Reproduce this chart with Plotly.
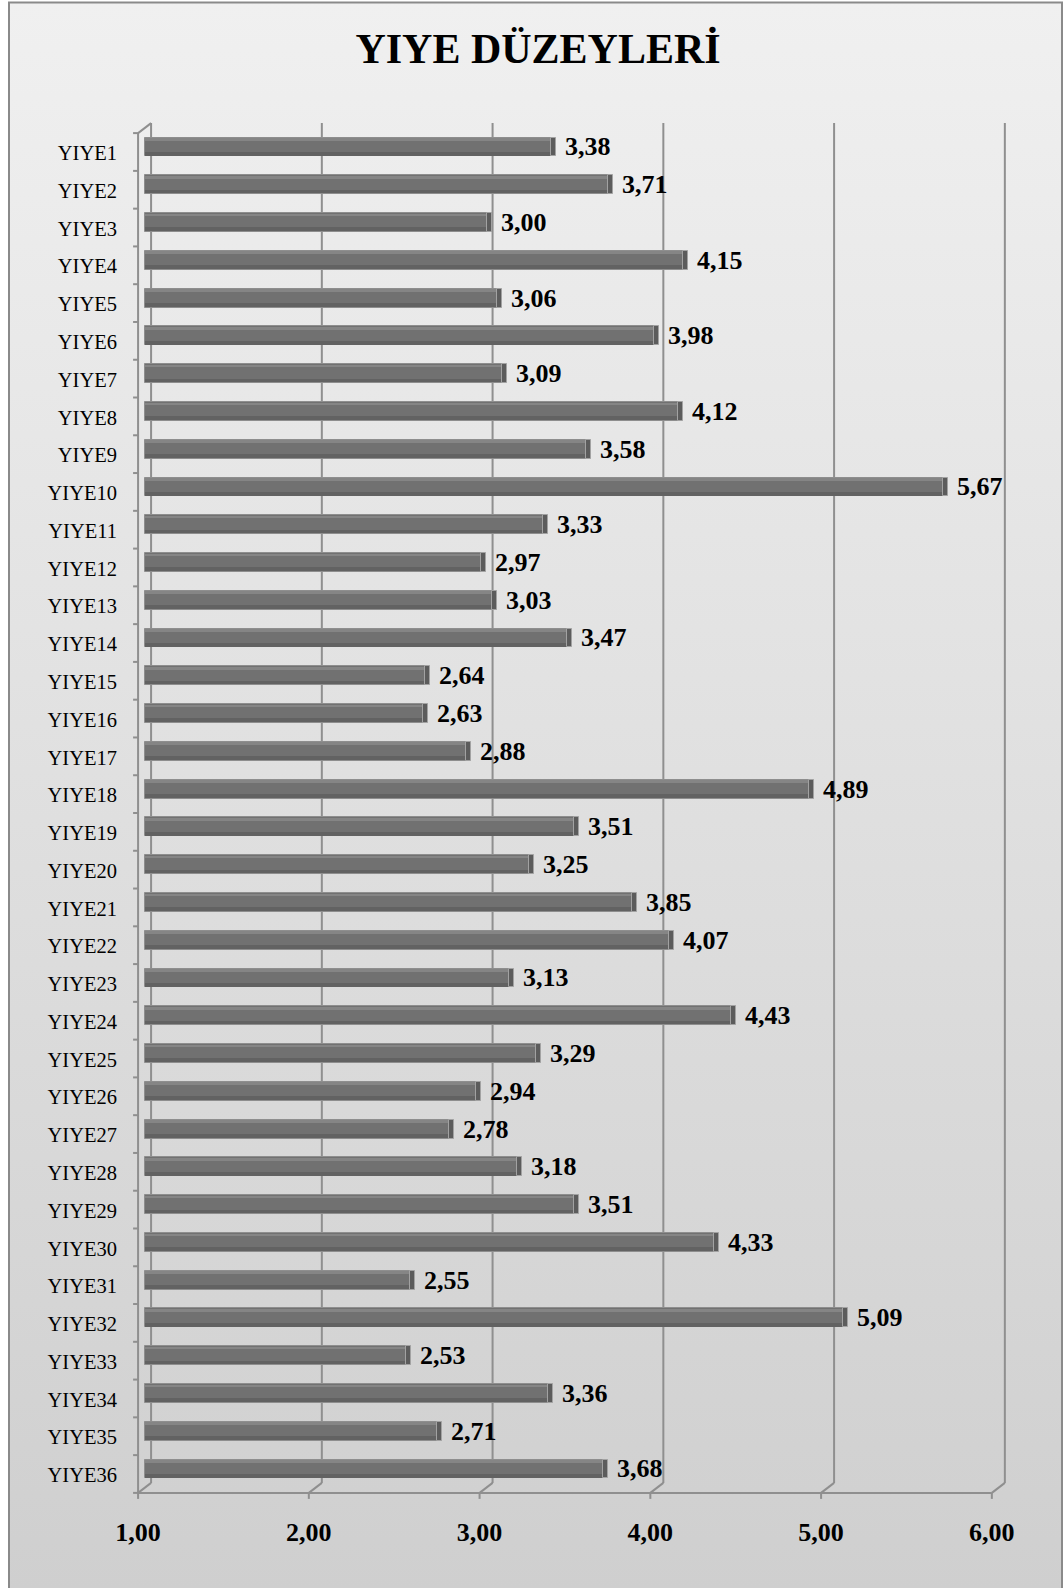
import base64
import plotly.graph_objects as go

# ---------------- data ----------------
categories = ["YIYE1", "YIYE2", "YIYE3", "YIYE4", "YIYE5", "YIYE6", "YIYE7", "YIYE8",
              "YIYE9", "YIYE10", "YIYE11", "YIYE12", "YIYE13", "YIYE14", "YIYE15", "YIYE16",
              "YIYE17", "YIYE18", "YIYE19", "YIYE20", "YIYE21", "YIYE22", "YIYE23", "YIYE24",
              "YIYE25", "YIYE26", "YIYE27", "YIYE28", "YIYE29", "YIYE30", "YIYE31", "YIYE32",
              "YIYE33", "YIYE34", "YIYE35", "YIYE36"]
values = [3.38, 3.71, 3.00, 4.15, 3.06, 3.98, 3.09, 4.12, 3.58, 5.67, 3.33, 2.97,
          3.03, 3.47, 2.64, 2.63, 2.88, 4.89, 3.51, 3.25, 3.85, 4.07, 3.13, 4.43,
          3.29, 2.94, 2.78, 3.18, 3.51, 4.33, 2.55, 5.09, 2.53, 3.36, 2.71, 3.68]
tick_values = [1, 2, 3, 4, 5, 6]
tick_labels = ["1,00", "2,00", "3,00", "4,00", "5,00", "6,00"]
title_text = "YIYE DÜZEYLERİ"
axis_base = 1

# ---------------- geometry / style ----------------
W, H = 1064, 1588
L, R, T, B = 128, 31, 113, 85
PW, PH = W - L - R, H - T - B
X_RANGE = [0.9, 6.2]
Y_RANGE = [35.9, -0.9]
PX_PER_X = PW / (X_RANGE[1] - X_RANGE[0])
PX_PER_Y = PH / (Y_RANGE[0] - Y_RANGE[1])


def dx(px):
    return px / PX_PER_X


def dy(px):  # positive = downwards (reversed category axis)
    return px / PX_PER_Y


def paper_x(px):
    return (px - L) / PW


def paper_y(py):
    return (H - B - py) / PH


FDX, FDY = dx(-7), dy(5)     # front plane offset
BDX, BDY = dx(6), dy(-5)     # back plane offset
N = len(categories)
TOP_EDGE, BOT_EDGE = -0.5, N - 0.5
GRID = "#8f8f8f"
SERIF = "Liberation Serif"

fmt = lambda v: f"{v:.2f}".replace(".", ",")

fig = go.Figure()

# bar body
fig.add_trace(go.Bar(
    y=categories, x=[v - axis_base for v in values], base=axis_base, orientation="h",
    width=0.5, marker=dict(color="#717171", line=dict(color="#8e8e8e", width=1)),
    hoverinfo="skip", showlegend=False))
# top highlight strip
fig.add_trace(go.Bar(
    y=categories, x=[v - axis_base for v in values], base=axis_base, orientation="h",
    width=0.07, offset=-0.235, marker=dict(color="#858585", line=dict(width=0)),
    hoverinfo="skip", showlegend=False))
# bottom shadow strip
fig.add_trace(go.Bar(
    y=categories, x=[v - axis_base for v in values], base=axis_base, orientation="h",
    width=0.1, offset=0.13, marker=dict(color="#626262", line=dict(width=0)),
    hoverinfo="skip", showlegend=False))
# end cap + value labels
fig.add_trace(go.Bar(
    y=categories, x=[dx(5)] * N, base=values, orientation="h",
    width=0.5, marker=dict(color="#5c5c5c", line=dict(color="#a2a2a2", width=1)),
    text=["\u00a0" + fmt(v) for v in values], textposition="outside",
    constraintext="none", cliponaxis=False,
    textfont=dict(family=SERIF, size=26, color="black", weight="bold"),
    hoverinfo="skip", showlegend=False))

shapes = []
line = dict(color=GRID, width=2)
for v in tick_values:
    # back vertical gridline
    shapes.append(dict(type="line", xref="x", yref="y", x0=v + BDX, x1=v + BDX,
                       y0=TOP_EDGE + BDY, y1=BOT_EDGE + BDY, line=line, layer="below"))
    # floor slant
    shapes.append(dict(type="line", xref="x", yref="y", x0=v + FDX, x1=v + BDX,
                       y0=BOT_EDGE + FDY, y1=BOT_EDGE + BDY, line=line, layer="below"))
    # front tick mark
    shapes.append(dict(type="line", xref="x", yref="y", x0=v + FDX, x1=v + FDX,
                       y0=BOT_EDGE + FDY, y1=BOT_EDGE + FDY + dy(6), line=line, layer="below"))
# front floor line
shapes.append(dict(type="line", xref="x", yref="y", x0=tick_values[0] + FDX, x1=tick_values[-1] + FDX,
                   y0=BOT_EDGE + FDY, y1=BOT_EDGE + FDY, line=line, layer="below"))
# front wall line
shapes.append(dict(type="line", xref="x", yref="y", x0=tick_values[0] + FDX, x1=tick_values[0] + FDX,
                   y0=TOP_EDGE + FDY, y1=BOT_EDGE + FDY, line=line, layer="below"))
# top-left wall slant
shapes.append(dict(type="line", xref="x", yref="y", x0=tick_values[0] + FDX, x1=tick_values[0] + BDX,
                   y0=TOP_EDGE + FDY, y1=TOP_EDGE + BDY, line=line, layer="below"))
# category tick marks on the wall
for k in range(N + 1):
    yk = TOP_EDGE + k + FDY
    shapes.append(dict(type="line", xref="x", yref="y", x0=tick_values[0] + FDX - dx(5),
                       x1=tick_values[0] + FDX, y0=yk, y1=yk, line=line, layer="below"))
# outer border
shapes.append(dict(type="rect", xref="paper", yref="paper", x0=paper_x(9), x1=paper_x(1062),
                   y0=paper_y(1592), y1=paper_y(2.5), line=dict(color="#8a8a8a", width=2),
                   fillcolor="rgba(0,0,0,0)", layer="above"))

svg = ("<svg xmlns='http://www.w3.org/2000/svg' width='100' height='100' preserveAspectRatio='none'>"
       "<defs><linearGradient id='g' x1='0' y1='0' x2='0' y2='1'>"
       "<stop offset='0' stop-color='#f0f0f0'/><stop offset='1' stop-color='#cfcfcf'/>"
       "</linearGradient></defs><rect width='100' height='100' fill='url(#g)'/></svg>")
src = "data:image/svg+xml;base64," + base64.b64encode(svg.encode()).decode()

fig.update_layout(
    width=W, height=H, margin=dict(l=L, r=R, t=T, b=B, autoexpand=False),
    paper_bgcolor="white", plot_bgcolor="rgba(0,0,0,0)",
    barmode="overlay", bargap=0,
    shapes=shapes,
    images=[dict(source=src, xref="paper", yref="paper", x=paper_x(9), y=paper_y(2),
                 sizex=paper_x(1063) - paper_x(9), sizey=paper_y(2) - paper_y(1590),
                 xanchor="left", yanchor="top", sizing="stretch", layer="below")],
    title=dict(text=title_text, x=538 / W, xref="container", xanchor="center",
               y=1 - 48 / H, yref="container", yanchor="middle",
               font=dict(family=SERIF, size=42, color="black", weight="bold")),
    xaxis=dict(range=X_RANGE, tickvals=tick_values, ticktext=tick_labels, ticks="",
               showgrid=False, zeroline=False, showline=False,
               ticklabelshift=-7, ticklabelstandoff=11,
               tickfont=dict(family=SERIF, size=26, color="black", weight="bold")),
    yaxis=dict(type="category", categoryorder="array", categoryarray=categories,
               range=Y_RANGE, ticks="", showgrid=False, zeroline=False, showline=False,
               ticklabelstandoff=10, ticklabelshift=-6,
               tickfont=dict(family=SERIF, size=20.5, color="black")),
)

fig.write_html("out.html", config={"displayModeBar": False},
               post_script="document.body.style.margin='0';document.body.style.overflow='hidden';")
